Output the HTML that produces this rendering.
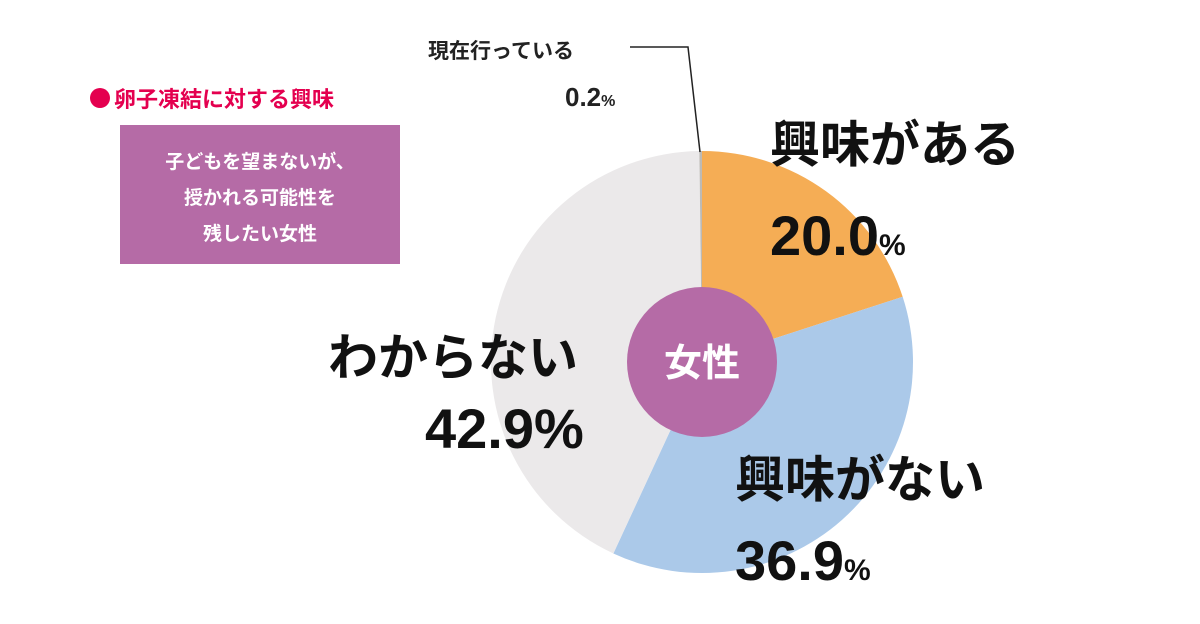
<!DOCTYPE html>
<html><head><meta charset="utf-8"><style>
body{margin:0;width:1200px;height:619px;background:#fff;overflow:hidden;font-family:"Liberation Sans","Noto Sans CJK JP",sans-serif;}
svg text{font-family:"Liberation Sans","Noto Sans CJK JP",sans-serif;}
</style></head><body>
<svg width="1200" height="619">
<circle cx="100" cy="98" r="10" fill="#e4004f"/>
<text x="114" y="107" font-size="22" font-weight="bold" fill="#e4004f">卵子凍結に対する興味</text>
<rect x="120" y="125" width="280" height="139" fill="#b56ba6"/>
<g fill="#fff" font-size="19" font-weight="bold" text-anchor="middle">
<text x="260" y="168">子どもを望まないが、</text>
<text x="260" y="204">授かれる可能性を</text>
<text x="260" y="240">残したい女性</text>
</g>
<g id="slices"></g>
<circle cx="702" cy="362" r="75" fill="#b56ba6"/>
<text x="702" y="376" font-size="38" font-weight="bold" fill="#fff" text-anchor="middle">女性</text>
<polyline points="630,47 688,47 700,152" fill="none" stroke="#222" stroke-width="1.5"/>
<text x="428" y="58" font-size="21" font-weight="bold" fill="#222">現在行っている</text>
<text x="565" y="106" font-size="26" font-weight="bold" fill="#222">0.2<tspan font-size="16">%</tspan></text>
<text x="770" y="162" font-size="50" font-weight="bold" fill="#111">興味がある</text>
<text x="770" y="255" font-size="56" font-weight="bold" fill="#111">20.0<tspan font-size="30">%</tspan></text>
<text x="328" y="375" font-size="50" font-weight="bold" fill="#111">わからない</text>
<text x="425" y="448" font-size="56" font-weight="bold" fill="#111">42.9%</text>
<text x="735" y="497" font-size="50" font-weight="bold" fill="#111">興味がない</text>
<text x="735" y="580" font-size="56" font-weight="bold" fill="#111">36.9<tspan font-size="30">%</tspan></text>
</svg>
<script>
const categories=["興味がある","興味がない","わからない","現在行っている"];
const values=[20.0,36.9,42.9,0.2];
const colors=["#f5ad55","#abc9e9","#ebe9ea","#bdbab5"];
const cx=702,cy=362,r=211;
const g=document.getElementById('slices');
const total=values.reduce((a,b)=>a+b,0);
let a0=0;
values.forEach((v,i)=>{
  const a1=a0+v/total*2*Math.PI;
  const x0=cx+r*Math.sin(a0),y0=cy-r*Math.cos(a0),x1=cx+r*Math.sin(a1),y1=cy-r*Math.cos(a1);
  const p=document.createElementNS('http://www.w3.org/2000/svg','path');
  p.setAttribute('d',`M${cx},${cy}L${x0},${y0}A${r},${r} 0 ${a1-a0>Math.PI?1:0} 1 ${x1},${y1}Z`);
  p.setAttribute('fill',colors[i]);
  
  
  g.appendChild(p);
  a0=a1;
});
</script>
</body></html>
